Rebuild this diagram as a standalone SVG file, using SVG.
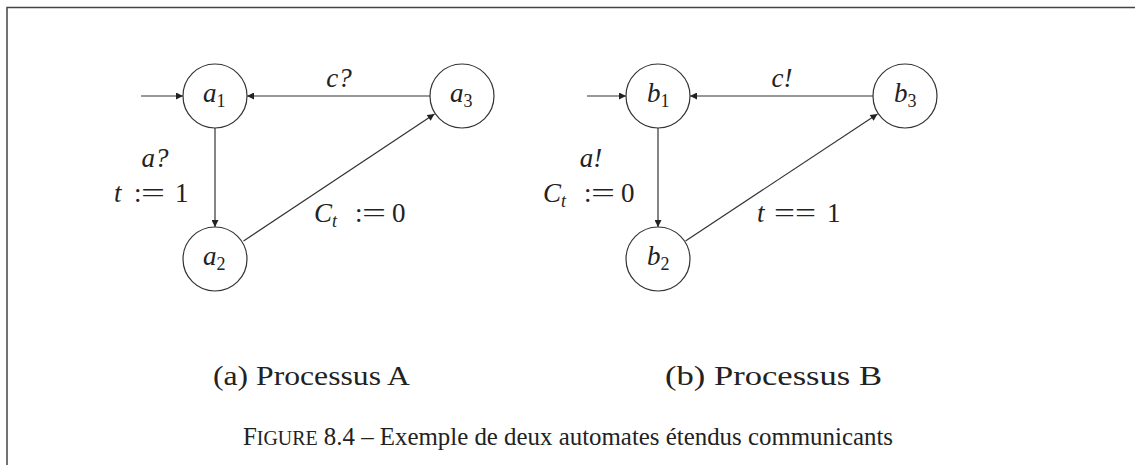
<svg xmlns="http://www.w3.org/2000/svg" width="1135" height="465" viewBox="0 0 1135 465">
<defs>
<marker id="ah" viewBox="0 0 10 10" refX="10" refY="5" markerWidth="9" markerHeight="7" markerUnits="userSpaceOnUse" orient="auto">
<path d="M0,0 L10,5 L0,10 z" fill="#222"/>
</marker>
</defs>
<rect width="1135" height="465" fill="#fff"/>
<path d="M7,465 L7,7.5 L1135,7.5" fill="none" stroke="#444" stroke-width="1.5"/>
<g id="connectors" fill="none" stroke="#333" stroke-width="1.2">
<line x1="141" y1="96" x2="183" y2="96" marker-end="url(#ah)"/>
<line x1="215" y1="128" x2="215" y2="227" marker-end="url(#ah)"/>
<line x1="430" y1="96" x2="247" y2="96" marker-end="url(#ah)"/>
<line x1="243.5" y1="241" x2="434.5" y2="114" marker-end="url(#ah)"/>
<line x1="587" y1="96" x2="626" y2="96" marker-end="url(#ah)"/>
<line x1="658" y1="128" x2="658" y2="227" marker-end="url(#ah)"/>
<line x1="873" y1="96" x2="690" y2="96" marker-end="url(#ah)"/>
<line x1="685.5" y1="241" x2="877.5" y2="114" marker-end="url(#ah)"/>
</g>
<g id="edge-labels" font-family="Liberation Serif, serif" font-size="27" fill="#222">
<text x="339" y="87" text-anchor="middle" font-style="italic">c?</text>
<text x="155" y="167" text-anchor="middle" font-style="italic">a?</text>
<text y="202"><tspan x="114" font-style="italic">t</tspan><tspan x="134">:</tspan><tspan x="141" textLength="24" lengthAdjust="spacingAndGlyphs">=</tspan><tspan x="175">1</tspan></text>
<text y="222"><tspan x="314" font-style="italic">C</tspan><tspan font-style="italic" font-size="18" dy="5">t</tspan><tspan x="355" dy="-5">:</tspan><tspan x="362" textLength="24" lengthAdjust="spacingAndGlyphs">=</tspan><tspan x="392">0</tspan></text>
<text x="782" y="87" text-anchor="middle" font-style="italic">c!</text>
<text x="591" y="167" text-anchor="middle" font-style="italic">a!</text>
<text y="202"><tspan x="543" font-style="italic">C</tspan><tspan font-style="italic" font-size="18" dy="5">t</tspan><tspan x="584" dy="-5">:</tspan><tspan x="591" textLength="24" lengthAdjust="spacingAndGlyphs">=</tspan><tspan x="621">0</tspan></text>
<text y="222"><tspan x="757" font-style="italic">t</tspan><tspan x="774" textLength="21" lengthAdjust="spacingAndGlyphs">=</tspan><tspan x="795" textLength="21" lengthAdjust="spacingAndGlyphs">=</tspan><tspan x="827">1</tspan></text>
</g>
<g font-family="Liberation Serif, serif" font-size="27" fill="#222">
<g id="a1"><circle cx="215" cy="96" r="32" fill="#fff" stroke="#333" stroke-width="1.2"/><text x="203" y="102"><tspan font-style="italic">a</tspan><tspan font-size="18" dy="5">1</tspan></text></g>
<g id="a2"><circle cx="215" cy="259" r="32" fill="#fff" stroke="#333" stroke-width="1.2"/><text x="203" y="265"><tspan font-style="italic">a</tspan><tspan font-size="18" dy="5">2</tspan></text></g>
<g id="a3"><circle cx="462" cy="96" r="32" fill="#fff" stroke="#333" stroke-width="1.2"/><text x="450" y="102"><tspan font-style="italic">a</tspan><tspan font-size="18" dy="5">3</tspan></text></g>
<g id="b1"><circle cx="658" cy="96" r="32" fill="#fff" stroke="#333" stroke-width="1.2"/><text x="647" y="102"><tspan font-style="italic">b</tspan><tspan font-size="18" dy="5">1</tspan></text></g>
<g id="b2"><circle cx="658" cy="259" r="32" fill="#fff" stroke="#333" stroke-width="1.2"/><text x="647" y="265"><tspan font-style="italic">b</tspan><tspan font-size="18" dy="5">2</tspan></text></g>
<g id="b3"><circle cx="905" cy="96" r="32" fill="#fff" stroke="#333" stroke-width="1.2"/><text x="894" y="102"><tspan font-style="italic">b</tspan><tspan font-size="18" dy="5">3</tspan></text></g>
</g>
<g id="captions" font-family="Liberation Serif, serif" font-size="28" fill="#222">
<text x="213" y="385" textLength="197" lengthAdjust="spacingAndGlyphs">(a) Processus A</text>
<text x="665" y="385" textLength="217" lengthAdjust="spacingAndGlyphs">(b) Processus B</text>
<text x="243" y="445" font-size="25" textLength="650" lengthAdjust="spacingAndGlyphs">F<tspan font-size="20">IGURE</tspan> 8.4 – Exemple de deux automates étendus communicants</text>
</g>
</svg>
